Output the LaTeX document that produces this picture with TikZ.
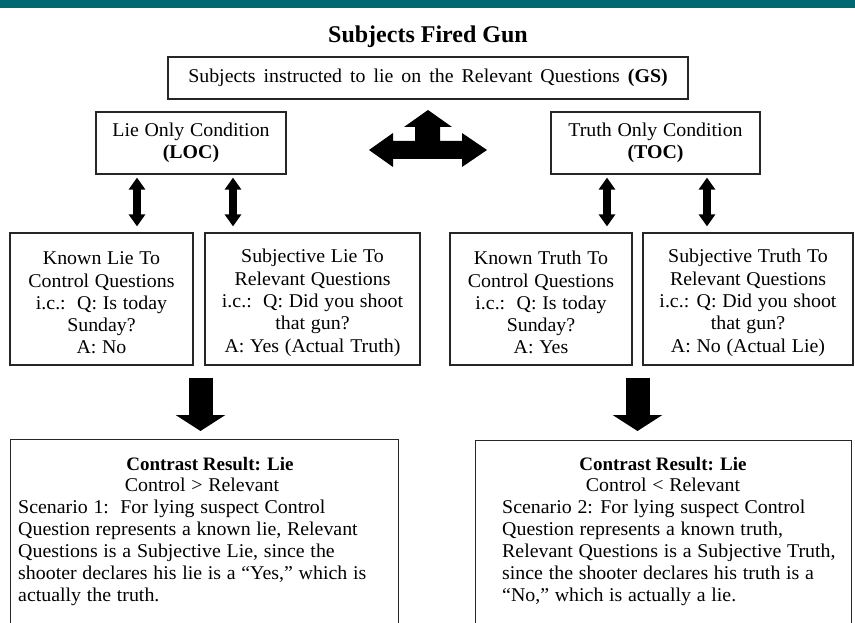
\documentclass[tikz,border=0pt]{standalone}
\usepackage{fontspec}
\setmainfont[FakeStretch=1.02, WordSpace=1.15]{Liberation Serif}
\newfontfamily\hdfont{Liberation Serif}
\usetikzlibrary{arrows.meta}
\definecolor{teal}{HTML}{006872}
\begin{document}
\begin{tikzpicture}[x=1pt,y=-1pt,
  box/.style={draw=black!85, line width=1.2pt, align=center, inner sep=2pt,
    font=\fontsize{19.5}{22.3}\selectfont},
  txt/.style={inner sep=0pt, font=\fontsize{19.5}{22.3}\selectfont},
  hd/.style={inner sep=0pt, font=\fontsize{19}{22.3}\selectfont\hdfont\bfseries},
  dbl/.style={line width=8pt, {Triangle[width=16pt,length=12pt]}-{Triangle[width=16pt,length=12pt]}},
  bigdown/.style={line width=24pt, -{Triangle[width=49pt,length=16pt]}}]
\useasboundingbox (0,0) rectangle (855,623);
\clip (0,0) rectangle (855,623);
\fill[teal] (0,0) rectangle (855,8);
\node[inner sep=0pt, font=\fontsize{24}{28}\selectfont\hdfont\bfseries, anchor=base] (title) at (428,43) {Subjects Fired Gun};
\node[box, minimum width=520, minimum height=42] (GS) at (428,78) {\spaceskip=8pt\relax Subjects instructed to lie on the Relevant Questions \textbf{(GS)}};
\node[box, minimum width=190, minimum height=62] (LOC) at (191,143) {Lie Only Condition\\\textbf{(LOC)}};
\node[box, minimum width=209, minimum height=62] (TOC) at (655.5,143) {Truth Only Condition\\\textbf{(TOC)}};
% central three-way arrow
\fill (369,150) -- (393,133) -- (393,141) -- (415,141) -- (415,127) -- (404,127) -- (428,110)
  -- (452,127) -- (440,127) -- (440,141) -- (462,141) -- (462,133) -- (487,150) -- (462,167)
  -- (462,159) -- (393,159) -- (393,167) -- cycle;
% row 3
\node[box, minimum width=183, minimum height=132] (LK) at (101.5,299) {\rule{0pt}{21pt}Known Lie To\\Control Questions\\i.c.:\ \ Q: Is today\\Sunday?\\A: No};
\node[box, minimum width=215, minimum height=132] (LS) at (312.5,299) {\rule{0pt}{21pt}Subjective Lie To\\Relevant Questions\\i.c.:\ \ Q: Did you shoot\\that gun?\\A: Yes (Actual Truth)};
\node[box, minimum width=182, minimum height=132] (TK) at (541,299) {\rule{0pt}{21pt}Known Truth To\\Control Questions\\i.c.:\ \ Q: Is today\\Sunday?\\A: Yes};
\node[box, minimum width=210, minimum height=132] (TS) at (748,299) {\rule{0pt}{21pt}Subjective Truth To\\Relevant Questions\\i.c.: Q: Did you shoot\\that gun?\\A: No (Actual Lie)};
% double arrows
\coordinate (a1) at (137,0);
\coordinate (a2) at (233,0);
\coordinate (a3) at (607,0);
\coordinate (a4) at (707,0);
\draw[dbl, shorten <=3pt, shorten >=6pt] (LOC.south -| a1) -- (LK.north -| a1);
\draw[dbl, shorten <=3pt, shorten >=6pt] (LOC.south -| a2) -- (LS.north -| a2);
\draw[dbl, shorten <=3pt, shorten >=6pt] (TOC.south -| a3) -- (TK.north -| a3);
\draw[dbl, shorten <=3pt, shorten >=6pt] (TOC.south -| a4) -- (TS.north -| a4);
% bottom boxes
\node[draw=black!85, line width=1.2pt, anchor=north west, minimum width=388, minimum height=230, inner sep=0pt] (RL) at (10,439) {};
\node[draw=black!85, line width=1.2pt, anchor=north west, minimum width=376, minimum height=230, inner sep=0pt] (RR) at (475,440) {};
\coordinate (b1) at (200.5,0);
\coordinate (b2) at (637.5,0);
\draw[bigdown, shorten <=12pt, shorten >=8pt] (LK.south -| b1) -- (RL.north -| b1);
\draw[bigdown, shorten <=12pt, shorten >=9pt] (TK.south -| b2) -- (RR.north -| b2);
% bottom left text
\node[hd, anchor=base] (hl) at (210,470) {Contrast Result: Lie};
\node[txt, anchor=base] (cl) at (202,491) {Control > Relevant};
\node[txt, anchor=base west] (l1) at (18,513) {Scenario 1:\ \ For lying suspect Control};
\node[txt, anchor=base west] (l2) at (18,535) {Question represents a known lie, Relevant};
\node[txt, anchor=base west] (l3) at (18,557) {Questions is a Subjective Lie, since the};
\node[txt, anchor=base west] (l4) at (18,579) {shooter declares his lie is a “Yes,” which is};
\node[txt, anchor=base west] (l5) at (18,601) {actually the truth.};
% bottom right text
\node[hd, anchor=base] (hr) at (663,470) {Contrast Result: Lie};
\node[txt, anchor=base] (cr) at (663,491) {Control < Relevant};
\node[txt, anchor=base west] (r1) at (502,513) {Scenario 2: For lying suspect Control};
\node[txt, anchor=base west] (r2) at (502,535) {Question represents a known truth,};
\node[txt, anchor=base west] (r3) at (502,557) {Relevant Questions is a Subjective Truth,};
\node[txt, anchor=base west] (r4) at (502,579) {since the shooter declares his truth is a};
\node[txt, anchor=base west] (r5) at (502,601) {“No,” which is actually a lie.};
\end{tikzpicture}
\end{document}
